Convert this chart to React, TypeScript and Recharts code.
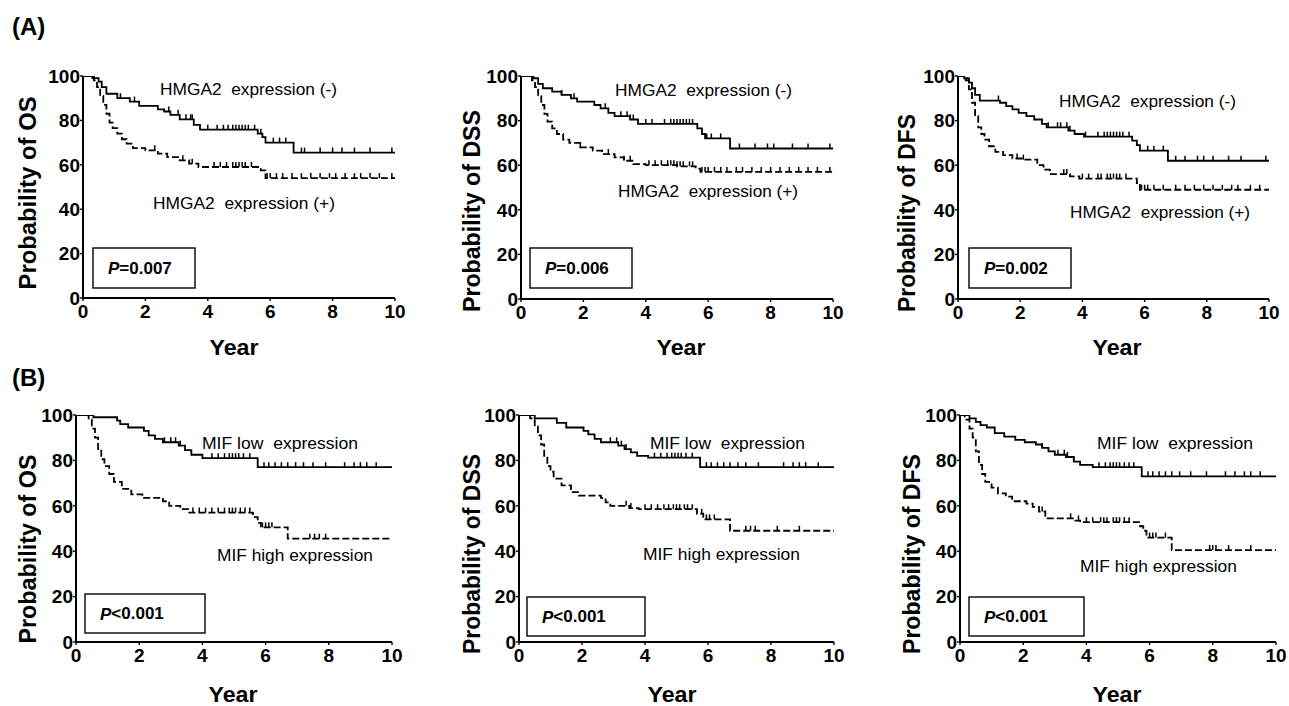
import { ComposedChart, Line, Scatter, XAxis, YAxis } from 'recharts';

type Pt = [number, number];

// Kaplan-Meier steps: [year, survival %]
const hmgaOsNeg: Pt[] = [[0, 100], [0.3, 99], [0.5, 97.5], [0.6, 95], [0.75, 92], [1.1, 90], [1.5, 88.5], [1.8, 86.5], [2.4, 85], [2.6, 84], [2.8, 82.5], [3.1, 80.5], [3.55, 78], [3.75, 75.8], [5.6, 74], [5.75, 72.5], [5.85, 70], [6.75, 65.5], [10, 65.5]];
const hmgaOsPos: Pt[] = [[0, 100], [0.35, 98], [0.45, 95], [0.55, 91], [0.65, 87], [0.75, 83], [0.85, 79], [0.95, 76.5], [1.1, 74], [1.25, 71.5], [1.4, 69.5], [1.6, 67.5], [2.0, 66.5], [2.4, 65], [2.7, 63.5], [3.1, 62], [3.4, 60.5], [3.7, 59], [5.7, 57.5], [5.85, 54], [10, 54]];
const hmgaDssNeg: Pt[] = [[0, 100], [0.4, 99], [0.55, 96.5], [0.7, 94.5], [1.0, 93], [1.3, 91.5], [1.6, 90], [1.8, 88.5], [2.35, 87], [2.55, 85.5], [2.8, 83.5], [3.0, 82], [3.5, 80.5], [3.75, 78.5], [5.65, 76.5], [5.8, 74], [5.9, 72], [6.7, 67.5], [10, 67.5]];
const hmgaDssPos: Pt[] = [[0, 100], [0.35, 98], [0.45, 95], [0.55, 91], [0.65, 87], [0.75, 83], [0.85, 79.5], [1.0, 76.5], [1.15, 74], [1.35, 71.5], [1.55, 70], [1.9, 68], [2.3, 66.5], [2.6, 65], [3.0, 63.5], [3.3, 62], [3.6, 60.5], [4.0, 60], [5.0, 59.5], [5.6, 58.5], [5.75, 57], [10, 57]];
const hmgaDfsNeg: Pt[] = [[0, 100], [0.2, 99], [0.35, 97], [0.45, 94.5], [0.55, 91.5], [0.7, 89], [1.35, 88], [1.55, 86.5], [1.75, 85], [1.95, 83.5], [2.2, 82], [2.45, 80.5], [2.7, 78.5], [2.85, 77], [3.55, 75.5], [3.75, 74], [4.05, 72.8], [5.6, 71], [5.75, 69], [5.85, 66.5], [6.75, 62], [10, 62]];
const hmgaDfsPos: Pt[] = [[0, 100], [0.25, 98], [0.35, 94], [0.45, 88], [0.55, 82], [0.65, 77], [0.75, 74], [0.85, 71.5], [1.0, 68.5], [1.2, 66], [1.45, 64.5], [1.75, 63], [2.1, 62.5], [2.55, 60], [2.75, 58], [2.95, 56], [3.6, 55], [3.9, 54], [5.75, 52], [5.85, 49], [10, 49]];
const mifOsLow: Pt[] = [[0, 100], [0.55, 99], [1.3, 97.5], [1.4, 96], [1.65, 94.5], [2.15, 93], [2.3, 91], [2.5, 89.5], [2.75, 88], [3.25, 86.5], [3.45, 84.5], [3.65, 82.5], [4.0, 81], [5.75, 77], [10, 77]];
const mifOsHigh: Pt[] = [[0, 100], [0.4, 98], [0.5, 94], [0.6, 90], [0.7, 85], [0.8, 80.5], [0.9, 77.5], [1.05, 74], [1.2, 70.5], [1.45, 67.5], [1.75, 65], [2.1, 63.5], [2.75, 62], [2.95, 60], [3.3, 58.5], [3.55, 57], [5.6, 55], [5.75, 52.5], [5.85, 50.5], [6.7, 45.5], [10, 45.5]];
const mifDssLow: Pt[] = [[0, 100], [0.5, 98.5], [1.2, 96.5], [1.5, 94.5], [2.05, 93], [2.2, 91.5], [2.4, 89.5], [2.6, 88], [3.15, 86.5], [3.35, 85], [3.55, 83.5], [3.75, 82], [4.1, 81.2], [5.75, 77], [10, 77]];
const mifDssHigh: Pt[] = [[0, 100], [0.35, 98.5], [0.5, 95], [0.6, 91], [0.7, 87], [0.8, 82], [0.9, 77.5], [1.0, 75], [1.1, 72], [1.35, 69], [1.65, 66], [1.9, 64.5], [2.6, 63.5], [2.75, 61.5], [2.9, 60], [3.5, 59], [3.8, 58.5], [5.65, 56.5], [5.85, 54], [6.7, 49], [10, 49]];
const mifDfsLow: Pt[] = [[0, 100], [0.3, 98.5], [0.5, 97], [0.65, 95.5], [0.85, 94.5], [1.1, 92], [1.4, 90.5], [1.75, 89], [2.05, 88], [2.4, 87], [2.6, 85.5], [2.8, 84], [3.0, 82.5], [3.35, 81.5], [3.6, 79.5], [3.8, 78], [4.2, 77], [5.75, 73], [10, 73]];
const mifDfsHigh: Pt[] = [[0, 100], [0.15, 98], [0.3, 94], [0.4, 90], [0.5, 84], [0.6, 78], [0.7, 74], [0.8, 70.5], [1.0, 68], [1.2, 65.5], [1.45, 64], [1.65, 62], [2.1, 61], [2.3, 59.5], [2.5, 57.5], [2.7, 54.5], [3.6, 53.5], [3.8, 52.8], [5.7, 51], [5.8, 49], [5.9, 46], [6.7, 40.5], [10, 40.5]];

// censoring times (years)
const hmgaOsNegCens = [1.2, 1.65, 2.75, 3.05, 3.3, 3.45, 3.5, 4.0, 4.3, 4.5, 4.65, 4.8, 4.9, 5.0, 5.1, 5.2, 5.3, 5.5, 5.7, 6.1, 6.3, 6.5, 7.0, 7.1, 7.6, 8.0, 8.3, 8.7, 9.2, 9.9];
const hmgaOsPosCens = [2.3, 3.2, 3.5, 4.2, 4.4, 4.6, 4.8, 4.9, 5.0, 5.1, 5.2, 5.4, 5.9, 6.0, 6.2, 6.4, 6.7, 7.0, 7.3, 7.6, 7.9, 8.1, 8.4, 8.7, 8.9, 9.2, 9.5, 9.9];
const hmgaDssNegCens = [1.3, 1.7, 2.7, 3.2, 3.4, 3.5, 3.6, 4.0, 4.2, 4.6, 4.8, 4.9, 5.0, 5.1, 5.2, 5.3, 5.4, 5.5, 5.95, 6.1, 6.4, 7.0, 7.5, 7.9, 8.1, 8.7, 9.2, 9.9];
const hmgaDssPosCens = [1.9, 2.8, 3.3, 3.5, 4.1, 4.3, 4.5, 4.7, 4.8, 4.9, 5.0, 5.1, 5.2, 5.4, 5.5, 5.8, 5.9, 6.0, 6.2, 6.4, 6.6, 6.9, 7.1, 7.4, 7.7, 8.0, 8.3, 8.6, 8.9, 9.2, 9.5, 9.9];
const hmgaDfsNegCens = [1.3, 2.9, 3.2, 3.3, 3.5, 3.6, 4.1, 4.5, 4.7, 4.8, 4.9, 5.0, 5.1, 5.2, 5.3, 5.5, 6.1, 6.3, 6.6, 7.0, 7.3, 7.7, 7.9, 8.2, 8.7, 9.1, 9.9];
const hmgaDfsPosCens = [1.9, 2.1, 3.4, 3.5, 4.0, 4.2, 4.5, 4.6, 4.8, 4.9, 5.0, 5.1, 5.2, 5.4, 5.9, 6.0, 6.1, 6.3, 6.6, 7.0, 7.3, 7.6, 7.9, 8.2, 8.5, 8.8, 9.0, 9.4, 9.7];
const mifOsLowCens = [2.8, 3.0, 3.15, 3.3, 4.3, 4.5, 4.7, 4.85, 4.95, 5.05, 5.15, 5.3, 5.5, 5.95, 6.1, 6.3, 6.5, 6.7, 6.95, 7.2, 7.5, 7.9, 8.5, 8.8, 9.0, 9.2, 9.5];
const mifOsHighCens = [3.7, 3.9, 4.1, 4.3, 4.5, 4.7, 4.85, 4.95, 5.05, 5.2, 5.35, 5.5, 5.9, 6.0, 6.1, 6.2, 7.4, 7.55, 7.7, 7.9];
const mifDssLowCens = [2.9, 3.1, 3.25, 3.4, 4.3, 4.5, 4.7, 4.85, 4.95, 5.05, 5.15, 5.3, 5.5, 5.95, 6.1, 6.3, 6.5, 6.7, 6.95, 7.2, 7.6, 8.4, 8.7, 8.9, 9.1, 9.5];
const mifDssHighCens = [3.4, 3.55, 4.0, 4.2, 4.4, 4.6, 4.75, 4.9, 5.0, 5.1, 5.25, 5.35, 5.5, 5.8, 5.95, 6.05, 6.2, 7.2, 7.35, 7.5, 8.2, 8.9];
const mifDfsLowCens = [2.6, 3.1, 3.3, 3.4, 3.6, 4.4, 4.6, 4.75, 4.85, 4.95, 5.05, 5.2, 5.35, 5.5, 5.95, 6.1, 6.3, 6.5, 6.7, 6.95, 7.3, 7.8, 8.4, 8.7, 9.0, 9.2, 9.5];
const mifDfsHighCens = [2.6, 3.5, 3.75, 4.0, 4.2, 4.45, 4.55, 4.65, 4.85, 4.95, 5.05, 5.2, 5.35, 6.0, 6.1, 6.2, 6.5, 7.9, 8.0, 8.1, 8.5, 9.2];

const yearTicks = [0, 2, 4, 6, 8, 10];
const probTicks = [0, 20, 40, 60, 80, 100];

const BOLD = '"Liberation Sans", Arial, sans-serif';
const REG = '"Liberation Sans", Arial, sans-serif';

const toRows = (c: Pt[]) => c.map(([t, s]) => ({ t, s }));
const stepAt = (c: Pt[], t: number) => {
  let v = c[0][1];
  for (const [ct, cs] of c) {
    if (ct <= t) v = cs;
    else break;
  }
  return v;
};
const censRows = (c: Pt[], times: number[]) => times.map((t) => ({ t, s: stepAt(c, t) }));

const CensorTick = (p: any) => (
  <line x1={p.cx} x2={p.cx} y1={p.cy - 5} y2={p.cy} stroke="#000" strokeWidth={1.5} />
);

interface Panel {
  x0: number; x1: number; y0: number; yb: number;
  top: Pt[]; bottom: Pt[]; topCens: number[]; bottomCens: number[];
  yLabel: string; ylx: number; yly: number; ylLen: number;
  yearX: number; yearY: number;
  topLabel: string; tlx0: number; tlx1: number; tly: number;
  botLabel: string; blx0: number; blx1: number; bly: number;
  pText: string; px0: number; px1: number; py0: number; py1: number; ptx: number;
}

const panels: Panel[] = [
  { x0: 83, x1: 395, y0: 76, yb: 298, top: hmgaOsNeg, bottom: hmgaOsPos, topCens: hmgaOsNegCens, bottomCens: hmgaOsPosCens,
    yLabel: 'Probability of OS', ylx: 28, yly: 193, ylLen: 193, yearX: 234, yearY: 347,
    topLabel: 'HMGA2  expression (-)', tlx0: 160, tlx1: 337, tly: 89, botLabel: 'HMGA2  expression (+)', blx0: 153, blx1: 335, bly: 203,
    pText: '=0.007', px0: 93, px1: 195, py0: 248, py1: 288, ptx: 108 },
  { x0: 521, x1: 833, y0: 76, yb: 299, top: hmgaDssNeg, bottom: hmgaDssPos, topCens: hmgaDssNegCens, bottomCens: hmgaDssPosCens,
    yLabel: 'Probability of DSS', ylx: 472, yly: 211, ylLen: 202, yearX: 681, yearY: 347,
    topLabel: 'HMGA2  expression (-)', tlx0: 615, tlx1: 792, tly: 90, botLabel: 'HMGA2  expression (+)', blx0: 618, blx1: 798, bly: 191,
    pText: '=0.006', px0: 530, px1: 632, py0: 248, py1: 288, ptx: 545 },
  { x0: 958, x1: 1269, y0: 76, yb: 299, top: hmgaDfsNeg, bottom: hmgaDfsPos, topCens: hmgaDfsNegCens, bottomCens: hmgaDfsPosCens,
    yLabel: 'Probability of DFS', ylx: 907, yly: 213, ylLen: 198, yearX: 1117, yearY: 347,
    topLabel: 'HMGA2  expression (-)', tlx0: 1059, tlx1: 1236, tly: 101, botLabel: 'HMGA2  expression (+)', blx0: 1070, blx1: 1250, bly: 212,
    pText: '=0.002', px0: 969, px1: 1071, py0: 248, py1: 288, ptx: 984 },
  { x0: 76, x1: 392, y0: 415, yb: 642, top: mifOsLow, bottom: mifOsHigh, topCens: mifOsLowCens, bottomCens: mifOsHighCens,
    yLabel: 'Probability of OS', ylx: 28, yly: 549, ylLen: 189, yearX: 233, yearY: 694,
    topLabel: 'MIF low  expression', tlx0: 202, tlx1: 358, tly: 443, botLabel: 'MIF high expression', blx0: 217, blx1: 373, bly: 555,
    pText: '<0.001', px0: 85, px1: 205, py0: 594, py1: 633, ptx: 100 },
  { x0: 519, x1: 834, y0: 415, yb: 642, top: mifDssLow, bottom: mifDssHigh, topCens: mifDssLowCens, bottomCens: mifDssHighCens,
    yLabel: 'Probability of DSS', ylx: 472, yly: 554, ylLen: 200, yearX: 672, yearY: 694,
    topLabel: 'MIF low  expression', tlx0: 650, tlx1: 805, tly: 443, botLabel: 'MIF high expression', blx0: 643, blx1: 800, bly: 554,
    pText: '<0.001', px0: 527, px1: 645, py0: 597, py1: 636, ptx: 542 },
  { x0: 960, x1: 1276, y0: 415, yb: 642, top: mifDfsLow, bottom: mifDfsHigh, topCens: mifDfsLowCens, bottomCens: mifDfsHighCens,
    yLabel: 'Probability of DFS', ylx: 912, yly: 554, ylLen: 200, yearX: 1117, yearY: 694,
    topLabel: 'MIF low  expression', tlx0: 1097, tlx1: 1253, tly: 443, botLabel: 'MIF high expression', blx0: 1080, blx1: 1237, bly: 566,
    pText: '<0.001', px0: 969, px1: 1084, py0: 597, py1: 636, ptx: 984 },
];

const Y_AXIS_W = 40;
const X_AXIS_H = 30;
const M_TOP = 10;
const M_RIGHT = 20;

const tickStyle = { fontSize: 19, fontWeight: 700, fill: '#000', fontFamily: BOLD };

function KmPanel({ p }: { p: Panel }) {
  const width = p.x1 - p.x0 + Y_AXIS_W + M_RIGHT;
  const height = p.yb - p.y0 + M_TOP + X_AXIS_H;
  return (
    <div style={{ position: 'absolute', left: p.x0 - Y_AXIS_W, top: p.y0 - M_TOP }}>
      <ComposedChart width={width} height={height} margin={{ top: M_TOP, right: M_RIGHT, bottom: 0, left: 0 }}>
        <XAxis dataKey="t" type="number" domain={[0, 10]} ticks={yearTicks} allowDataOverflow
          height={X_AXIS_H} tickSize={3} tickMargin={4} interval={0}
          axisLine={{ stroke: '#000', strokeWidth: 2 }} tickLine={{ stroke: '#000', strokeWidth: 1.4 }} tick={tickStyle} />
        <YAxis dataKey="s" type="number" domain={[0, 100]} ticks={probTicks} allowDataOverflow
          width={Y_AXIS_W} tickSize={3} tickMargin={0} interval={0}
          axisLine={{ stroke: '#000', strokeWidth: 2 }} tickLine={{ stroke: '#000', strokeWidth: 1.4 }} tick={tickStyle} />
        <Line data={toRows(p.top)} dataKey="s" type="stepAfter" stroke="#000" strokeWidth={1.8}
          dot={false} activeDot={false} isAnimationActive={false} />
        <Line data={toRows(p.bottom)} dataKey="s" type="stepAfter" stroke="#000" strokeWidth={1.8}
          strokeDasharray="7 3" dot={false} activeDot={false} isAnimationActive={false} />
        <Scatter data={censRows(p.top, p.topCens)} dataKey="s" shape={CensorTick} isAnimationActive={false} />
        <Scatter data={censRows(p.bottom, p.bottomCens)} dataKey="s" shape={CensorTick} isAnimationActive={false} />
      </ComposedChart>
    </div>
  );
}

function Texts({ p }: { p: Panel }) {
  return (
    <g>
      <text x={p.ylx} y={p.yly} transform={`rotate(-90 ${p.ylx} ${p.yly})`} textAnchor="middle" dominantBaseline="central"
        fontFamily={BOLD} fontWeight={700} fontSize={23} textLength={p.ylLen} lengthAdjust="spacingAndGlyphs">{p.yLabel}</text>
      <text x={p.yearX} y={p.yearY} textAnchor="middle" dominantBaseline="central"
        fontFamily={BOLD} fontWeight={700} fontSize={22} textLength={49} lengthAdjust="spacingAndGlyphs">Year</text>
      <text x={p.tlx0} y={p.tly} dominantBaseline="central" fontFamily={REG} fontSize={17} xmlSpace="preserve"
        style={{ whiteSpace: 'pre' }} textLength={p.tlx1 - p.tlx0} lengthAdjust="spacingAndGlyphs">{p.topLabel}</text>
      <text x={p.blx0} y={p.bly} dominantBaseline="central" fontFamily={REG} fontSize={17} xmlSpace="preserve"
        style={{ whiteSpace: 'pre' }} textLength={p.blx1 - p.blx0} lengthAdjust="spacingAndGlyphs">{p.botLabel}</text>
      <rect x={p.px0} y={p.py0} width={p.px1 - p.px0} height={p.py1 - p.py0} fill="#fff" stroke="#000" strokeWidth={1.4} />
      <text x={p.ptx} y={(p.py0 + p.py1) / 2} dominantBaseline="central" fontFamily={BOLD} fontWeight={700} fontSize={17}>
        <tspan fontStyle="italic">P</tspan>{p.pText}
      </text>
    </g>
  );
}

export default function App() {
  return (
    <div style={{ position: 'absolute', left: 0, top: 0, width: 1289, height: 706, background: '#fff', overflow: 'hidden' }}>
      {panels.map((p, i) => <KmPanel key={i} p={p} />)}
      <svg width={1289} height={706} style={{ position: 'absolute', left: 0, top: 0, pointerEvents: 'none' }}>
        <text x={12} y={35} fontFamily={BOLD} fontWeight={700} fontSize={24}>(A)</text>
        <text x={12} y={386} fontFamily={BOLD} fontWeight={700} fontSize={24}>(B)</text>
        {panels.map((p, i) => <Texts key={i} p={p} />)}
      </svg>
    </div>
  );
}
